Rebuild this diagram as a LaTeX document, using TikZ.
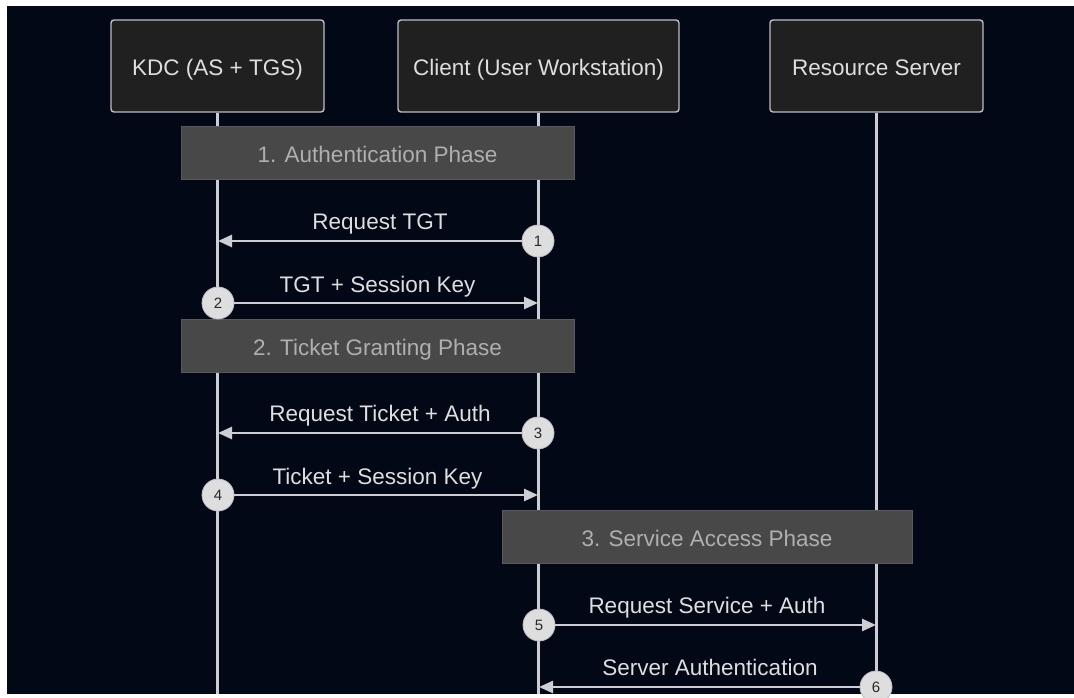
\documentclass[tikz,border=0pt]{standalone}
\usepackage{fontspec}
\setmainfont{Liberation Sans}
\usetikzlibrary{arrows.meta}
\definecolor{bgcol}{RGB}{3,8,22}
\definecolor{actfill}{RGB}{32,32,32}
\definecolor{actline}{RGB}{190,190,195}
\definecolor{acttext}{RGB}{222,222,222}
\definecolor{phfill}{RGB}{72,72,72}
\definecolor{phline}{RGB}{90,90,90}
\definecolor{phtext}{RGB}{175,175,175}
\definecolor{linecol}{RGB}{205,205,212}
\definecolor{circfill}{RGB}{222,222,222}
\definecolor{circtext}{RGB}{40,40,40}
\tikzset{
  actor/.style={draw=actline, line width=1.4pt, fill=actfill, rounded corners=3pt,
    minimum height=92pt, text=acttext, font=\fontsize{22.5}{27}\selectfont, inner sep=0pt,
    text height=20pt, text depth=0pt},
  phase/.style={draw=phline, line width=1pt, fill=phfill, minimum height=53pt,
    text=phtext, font=\fontsize{22.5}{27}\selectfont, inner sep=0pt,
    text height=20pt, text depth=0pt},
  lifeline/.style={draw=linecol, line width=2.5pt},
  msg/.style={draw=linecol, line width=2.5pt, -{Triangle[length=14pt,width=12pt]}},
  msglabel/.style={text=acttext, font=\fontsize{22.5}{27}\selectfont, inner sep=0pt,
    text height=16pt, text depth=0pt},
  seqnum/.style={circle, draw=actline, line width=0.8pt, fill=circfill, minimum size=32pt,
    inner sep=0pt, text=circtext, font=\fontsize{15}{18}\selectfont,
    text height=10.7pt, text depth=0pt}
}
\begin{document}
\begin{tikzpicture}[x=1pt,y=-1pt]
\useasboundingbox (0,0) rectangle (1074,698);
\fill[white] (0,0) rectangle (1074,698);
\fill[bgcol] (7,6) rectangle (1074,694);

% actors
\node[actor, minimum width=213pt] (kdc) at (217.5,66) {KDC (AS + TGS)};
\node[actor, minimum width=281pt] (cli) at (538.5,66) {Client (User Workstation)};
\node[actor, minimum width=213pt] (srv) at (876.5,66) {Resource Server};

% lifeline ends
\coordinate (kdcEnd) at (217.5,694);
\coordinate (cliEnd) at (538.5,694);
\coordinate (srvEnd) at (876.5,694);
\draw[lifeline] (kdc.south) -- (kdcEnd);
\draw[lifeline] (cli.south) -- (cliEnd);
\draw[lifeline] (srv.south) -- (srvEnd);

% phases
\node[phase, minimum width=393pt] (ph1) at (377.5,153) {1. Authentication Phase};
\node[phase, minimum width=393pt] (ph2) at (377.5,345.5) {2. Ticket Granting Phase};
\node[phase, minimum width=410pt] (ph3) at (707,536.5) {3. Service Access Phase};

% message endpoints on lifelines
\coordinate (k1) at (218,241);
\coordinate (c2) at (538,303);
\coordinate (k3) at (218,433);
\coordinate (c4) at (538,495);
\coordinate (s5) at (876,625);
\coordinate (c6) at (539,687);

% sequence number positions
\coordinate (p1) at (538,241);
\coordinate (p2) at (218,303);
\coordinate (p3) at (538,433);
\coordinate (p4) at (218,495);
\coordinate (p5) at (539,625);
\coordinate (p6) at (876,687);

\draw[msg] (p1) -- (k1);
\draw[msg] (p2) -- (c2);
\draw[msg] (p3) -- (k3);
\draw[msg] (p4) -- (c4);
\draw[msg] (p5) -- (s5);
\draw[msg] (p6) -- (c6);

\node[msglabel] (l1) at (380,221) {Request TGT};
\node[msglabel] (l2) at (377.5,284) {TGT + Session Key};
\node[msglabel] (l3) at (380,413) {Request Ticket + Auth};
\node[msglabel] (l4) at (377.5,476) {Ticket + Session Key};
\node[msglabel] (l5) at (707,605) {Request Service + Auth};
\node[msglabel] (l6) at (710,667) {Server Authentication};

\node[seqnum] (n1) at (p1) {1};
\node[seqnum] (n2) at (p2) {2};
\node[seqnum] (n3) at (p3) {3};
\node[seqnum] (n4) at (p4) {4};
\node[seqnum] (n5) at (p5) {5};
\node[seqnum] (n6) at (p6) {6};
\end{tikzpicture}
\end{document}
